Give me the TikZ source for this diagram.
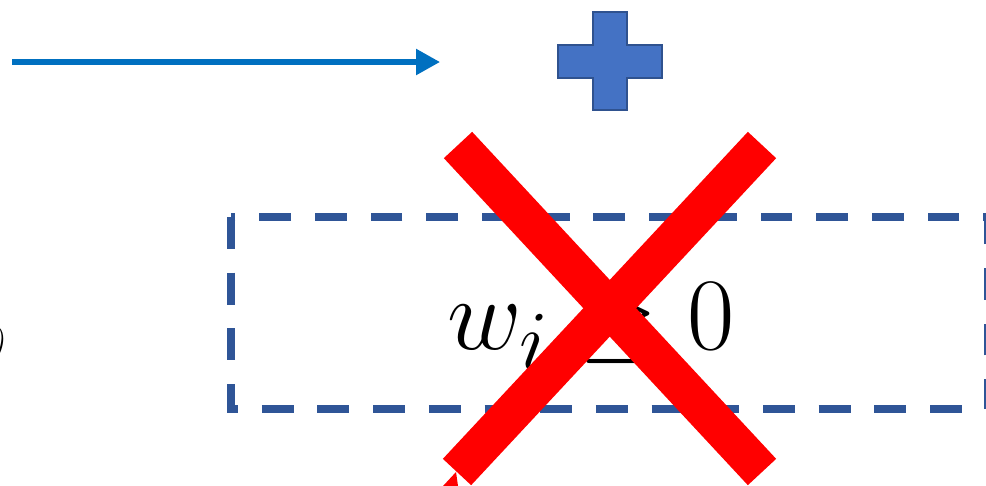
\documentclass[tikz,border=0pt]{standalone}
\usepackage{amsmath}
\usepackage{amssymb}
\usetikzlibrary{arrows.meta}
\definecolor{arrowblue}{HTML}{0070C0}
\definecolor{plusfill}{HTML}{4472C4}
\definecolor{plusline}{HTML}{2F528F}
\definecolor{boxline}{HTML}{2F5597}
\begin{document}
\begin{tikzpicture}[x=0.02cm,y=-0.02cm]
\clip (0,0) rectangle (986,485);
\fill[white] (0,0) rectangle (986,485);
\coordinate (start) at (12,62);
\coordinate (stop) at (440,62);
\draw[-{Triangle[length=13.6pt,width=14.2pt]},arrowblue,line width=3pt](start)--(stop);
\draw[fill=plusfill,draw=plusline,line width=1.1pt](593,12)--(627,12)--(627,45)--(662,45)--(662,78)--(627,78)--(627,110)--(593,110)--(593,78)--(558,78)--(558,45)--(593,45)--cycle;
\draw[boxline,line width=4.5pt,dash pattern=on 18.1pt off 13.6pt](231,217)rectangle(988,409);
\node[scale=2.35] (cons) at (591,327) {\Huge$w_i \geq 0$};
\node[scale=1.5] (paren) at (-3,347) {\Large\itshape )};
\draw[red,line width=22pt](458,145)--(762,472);
\draw[red,line width=22pt](762,145)--(457,472);
\fill[red](443,486)--(456,472)--(458,486)--cycle;
\end{tikzpicture}
\end{document}
